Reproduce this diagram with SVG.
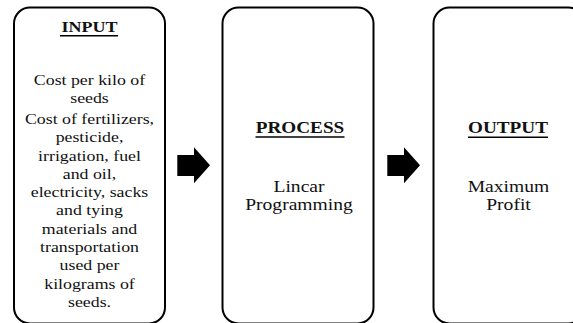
<svg xmlns="http://www.w3.org/2000/svg" width="573" height="323" viewBox="0 0 573 323">
<style>
.box{fill:#fff;stroke:#000;stroke-width:2}
text{font-family:'Liberation Serif','Times New Roman','DejaVu Serif',serif;fill:#111;text-anchor:middle}
.s{font-size:15.5px}
.b{font-size:17.5px}
.h{font-weight:bold}
.ul{stroke:#000;stroke-width:1.4}
.arr{fill:#000}
</style>
<rect width="573" height="323" fill="#fff"/>
<g id="input" font-family="Liberation Serif, serif">
<rect class="box" x="14" y="7.5" width="151" height="316" rx="16"/>
<g transform="translate(89.5,0) scale(1.2,1)">
<text class="h" x="0" y="32.3" font-size="15">INPUT</text>
</g>
<line class="ul" x1="60" y1="35.8" x2="118" y2="35.8"/>
<g transform="translate(89.5,0) scale(1.15,1)">
<text class="s" x="0" y="85">Cost per kilo  of</text>
<text class="s" x="0" y="103">seeds</text>
<text class="s" x="0" y="124">Cost of fertilizers,</text>
<text class="s" x="0" y="142.3">pesticide,</text>
<text class="s" x="0" y="160.6">irrigation,  fuel</text>
<text class="s" x="0" y="178.9">and oil,</text>
<text class="s" x="0" y="197.2">electricity,  sacks</text>
<text class="s" x="0" y="215.5">and tying</text>
<text class="s" x="0" y="233.8">materials and</text>
<text class="s" x="0" y="252.1">transportation</text>
<text class="s" x="0" y="270.4">used per</text>
<text class="s" x="0" y="288.7">kilograms  of</text>
<text class="s" x="0" y="307">seeds.</text>
</g>
</g>
<g id="process">
<rect class="box" x="222.5" y="7.5" width="151" height="316" rx="16"/>
<g transform="translate(300,0) scale(1.13,1)">
<text class="h" x="0" y="132.7" font-size="17">PROCESS</text>
</g>
<line class="ul" x1="255.5" y1="137" x2="344.5" y2="137"/>
<g transform="translate(299,0) scale(1.12,1)">
<text class="b" x="0" y="192.5">Lincar</text>
<text class="b" x="0" y="210.5">Programming</text>
</g>
</g>
<g id="output">
<rect class="box" x="433.5" y="7.5" width="151" height="316" rx="16"/>
<g transform="translate(508,0) scale(1.13,1)">
<text class="h" x="0" y="133.3" font-size="17">OUTPUT</text>
</g>
<line class="ul" x1="468" y1="137.3" x2="548" y2="137.3"/>
<g transform="translate(508.5,0) scale(1.12,1)">
<text class="b" x="0" y="191.7">Maximum</text>
<text class="b" x="0" y="210.5">Profit</text>
</g>
</g>
<g id="connectors">
<polygon class="arr" points="177.3,155 194,155 194,147.3 210,165.3 194,183.3 194,176 177.3,176"/>
<polygon class="arr" points="387.3,155 404,155 404,147.3 420,165.3 404,183.3 404,176 387.3,176"/>
</g>
</svg>
